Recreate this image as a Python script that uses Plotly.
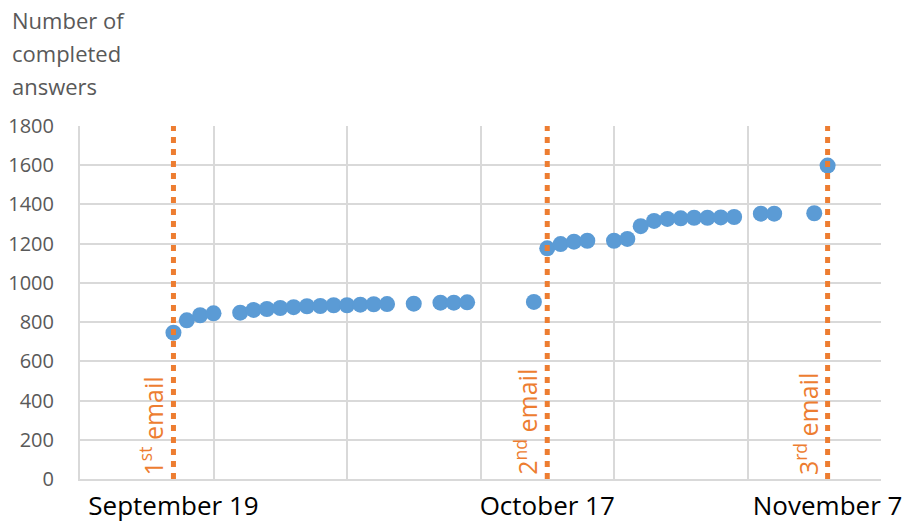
import plotly.graph_objects as go

# ---- data ----
dates = [
    "2019-09-19", "2019-09-20", "2019-09-21", "2019-09-22", "2019-09-24", "2019-09-25",
    "2019-09-26", "2019-09-27", "2019-09-28", "2019-09-29", "2019-09-30", "2019-10-01",
    "2019-10-02", "2019-10-03", "2019-10-04", "2019-10-05", "2019-10-07", "2019-10-09",
    "2019-10-10", "2019-10-11", "2019-10-16", "2019-10-17", "2019-10-18", "2019-10-19",
    "2019-10-20", "2019-10-22", "2019-10-23", "2019-10-24", "2019-10-25", "2019-10-26",
    "2019-10-27", "2019-10-28", "2019-10-29", "2019-10-30", "2019-10-31", "2019-11-02",
    "2019-11-03", "2019-11-06", "2019-11-07",
]
answers = [
    746, 809, 835, 845, 848, 862,
    867, 872, 876, 881, 882, 886,
    886, 889, 891, 892, 894, 899,
    899, 901, 903, 1176, 1198, 1210,
    1215, 1215, 1224, 1289, 1316, 1326,
    1329, 1332, 1332, 1334, 1336, 1353,
    1353, 1355, 1598,
]
email_dates = ["2019-09-19", "2019-10-17", "2019-11-07"]
email_labels = ["1<sup>st</sup> email", "2<sup>nd</sup> email", "3<sup>rd</sup> email"]
x_tick_labels = ["September 19", "October 17", "November 7"]
y_title_lines = ["Number of", "completed", "answers"]

x_range = ["2019-09-12", "2019-11-11"]
DAY_MS = 86400000

BLUE = "#5B9BD5"
ORANGE = "#ED7D31"
GRID = "#D9D9D9"
GRAY = "#595959"
FONT = "Open Sans"

fig = go.Figure()

fig.add_trace(go.Scatter(
    x=dates, y=answers, mode="markers",
    marker=dict(color=BLUE, size=16, line=dict(width=0)),
    showlegend=False, hoverinfo="x+y",
))

# invisible trace to activate the label axis
fig.add_trace(go.Scatter(
    x=email_dates, y=[None] * len(email_dates), xaxis="x2", mode="markers",
    showlegend=False, hoverinfo="skip",
))

for d in email_dates:
    fig.add_shape(
        type="line", xref="x", yref="paper", x0=d, x1=d, y0=0, y1=1,
        line=dict(color=ORANGE, width=5, dash="6px,6px"), layer="above",
    )

for d, lab in zip(email_dates, email_labels):
    fig.add_annotation(
        x=d, xref="x", y=0, yref="paper", text=lab, textangle=-90,
        showarrow=False, xanchor="right", yanchor="bottom",
        xshift=-1, yshift=2,
        font=dict(family=FONT, size=25, color=ORANGE),
    )

for i, line in enumerate(y_title_lines):
    fig.add_annotation(
        x=0, xref="paper", xanchor="left", xshift=-70,
        y=1, yref="paper", yanchor="middle", yshift=106 - 33 * i,
        text=line, showarrow=False, align="left",
        font=dict(family=FONT, size=22, color=GRAY),
    )

fig.update_layout(
    width=903, height=522,
    margin=dict(l=80, r=22, t=126, b=43, autoexpand=False),
    paper_bgcolor="white", plot_bgcolor="white",
    font=dict(family=FONT, color=GRAY),
    xaxis=dict(
        type="date", range=x_range, tick0=x_range[0], dtick=10 * DAY_MS,
        showticklabels=False, showgrid=True, gridcolor=GRID, gridwidth=2,
        showline=True, linecolor=GRID, linewidth=2, mirror=False,
        zeroline=False, ticks="", automargin=False,
    ),
    xaxis2=dict(
        type="date", range=x_range, overlaying="x", side="bottom",
        tickmode="array", tickvals=email_dates, ticktext=x_tick_labels,
        showgrid=False, showline=False, zeroline=False, ticks="",
        tickfont=dict(family=FONT, size=26, color="#000000"),
        ticklabelstandoff=9, automargin=False,
    ),
    yaxis=dict(
        range=[0, 1800], dtick=200, tick0=0,
        showgrid=True, gridcolor=GRID, gridwidth=2,
        showline=True, linecolor=GRID, linewidth=2,
        zeroline=False, ticks="", automargin=False,
        tickfont=dict(family=FONT, size=20, color=GRAY),
        ticklabelstandoff=20,
    ),
)

fig.write_html(
    "out.html",
    config={"displayModeBar": False},
    post_script="document.body.style.margin='0px';document.body.style.overflow='hidden';",
)
